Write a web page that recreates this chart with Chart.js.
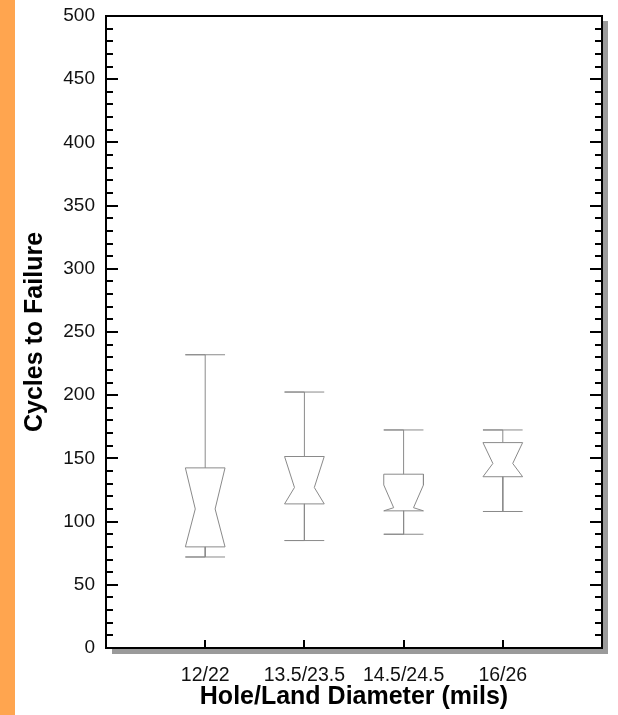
<!DOCTYPE html>
<html>
<head>
<meta charset="utf-8">
<script src="https://cdn.jsdelivr.net/npm/chart.js@4.4.1/dist/chart.umd.min.js"></script>
<style>
  html, body { margin: 0; padding: 0; background: #fff; }
  body { width: 618px; height: 715px; position: relative; overflow: hidden; }
  #strip { position: absolute; left: 0; top: 0; width: 15px; height: 715px; background: #ffa54f; }
  #chart { position: absolute; left: 15px; top: 0; }
</style>
</head>
<body>
<div id="strip"></div>
<canvas id="chart" width="603" height="715"></canvas>
<script>
// Categories and box statistics (cycles to failure)
const categories = ['12/22', '13.5/23.5', '14.5/24.5', '16/26'];
const whiskerLow = [72, 85, 90, 108];
const q1 = [80, 114, 108.5, 135.5];
const notchLow = [80, 114, 108.5, 135.5];
const median = [110, 127, 111, 146];
const notchHigh = [142.5, 151.5, 129, 162.5];
const q3 = [142.5, 151.5, 137.5, 162.5];
const whiskerHigh = [232, 202.5, 172.5, 172.5];
const yTicksMajor = [0, 50, 100, 150, 200, 250, 300, 350, 400, 450, 500];

const fontFamily = "'Liberation Sans', Arial, Helvetica, sans-serif";
const halfBox = 0.2;
const halfNotch = 0.1;

function boxPoints(i) {
    const x = i + 1;
    const gap = { x: x, y: null };
    return [
        // upper whisker + cap
        { x: x, y: q3[i] }, { x: x, y: whiskerHigh[i] },
        { x: x - halfBox, y: whiskerHigh[i] }, { x: x + halfBox, y: whiskerHigh[i] }, gap,
        // lower whisker + cap
        { x: x, y: q1[i] }, { x: x, y: whiskerLow[i] },
        { x: x - halfBox, y: whiskerLow[i] }, { x: x + halfBox, y: whiskerLow[i] }, gap,
        // notched box outline
        { x: x - halfBox, y: q3[i] }, { x: x + halfBox, y: q3[i] },
        { x: x + halfBox, y: notchHigh[i] }, { x: x + halfNotch, y: median[i] },
        { x: x + halfBox, y: notchLow[i] }, { x: x + halfBox, y: q1[i] },
        { x: x - halfBox, y: q1[i] }, { x: x - halfBox, y: notchLow[i] },
        { x: x - halfNotch, y: median[i] }, { x: x - halfBox, y: notchHigh[i] },
        { x: x - halfBox, y: q3[i] }
    ];
}

const datasets = categories.map((c, i) => ({
    label: c,
    data: boxPoints(i),
    showLine: true,
    spanGaps: false,
    borderColor: '#8a8a8a',
    borderWidth: 1,
    pointRadius: 0,
    pointHoverRadius: 0,
    fill: false,
    tension: 0,
    borderJoinStyle: 'miter'
}));

// frame with drop shadow and inward ticks
const framePlugin = {
    id: 'frame',
    beforeDatasetsDraw(chart) {
        const { ctx, chartArea: a, scales } = chart;
        const w = a.right - a.left, h = a.bottom - a.top;
        ctx.save();
        ctx.fillStyle = '#9a9a9a';
        ctx.fillRect(a.left + 6, a.top + 5, w, h + 1);
        ctx.fillStyle = '#ffffff';
        ctx.fillRect(a.left, a.top, w, h);

        ctx.strokeStyle = '#000';
        ctx.lineWidth = 2;
        ctx.beginPath();
        scales.y.ticks.forEach(t => {
            const py = Math.round(scales.y.getPixelForValue(t.value));
            const len = yTicksMajor.includes(t.value) ? 12 : 7;
            ctx.moveTo(a.left, py); ctx.lineTo(a.left + len, py);
            ctx.moveTo(a.right, py); ctx.lineTo(a.right - len, py);
        });
        scales.x.ticks.forEach(t => {
            const px = Math.round(scales.x.getPixelForValue(t.value));
            ctx.moveTo(px, a.bottom); ctx.lineTo(px, a.bottom - 8);
        });
        ctx.stroke();
        ctx.strokeRect(a.left, a.top, w, h);
        ctx.restore();
    }
};

new Chart(document.getElementById('chart'), {
    type: 'scatter',
    data: { datasets: datasets },
    plugins: [framePlugin],
    options: {
        responsive: false,
        animation: false,
        events: [],
        layout: { padding: { top: 16, right: 16, left: 0, bottom: 0 } },
        plugins: { legend: { display: false }, tooltip: { enabled: false } },
        scales: {
            x: {
                type: 'linear',
                min: 0,
                max: 5,
                grid: { display: false, drawTicks: false },
                border: { display: false },
                afterBuildTicks: scale => { scale.ticks = categories.map((c, i) => ({ value: i + 1 })); },
                afterFit: scale => { scale.height = 67; },
                ticks: {
                    padding: 16,
                    color: '#111',
                    maxRotation: 0,
                    autoSkip: false,
                    font: { family: fontFamily, size: 19.5 },
                    callback: (v, i) => categories[i]
                },
                title: {
                    display: true,
                    text: 'Hole/Land Diameter (mils)',
                    color: '#000',
                    padding: { top: 0, bottom: 3 },
                    font: { family: fontFamily, size: 25, weight: 'bold', lineHeight: 1.2 }
                }
            },
            y: {
                min: 0,
                max: 500,
                grid: { display: false, drawTicks: false },
                border: { display: false },
                afterFit: scale => {
                    scale.width = 91;
                    scale.paddingTop = 0;
                    scale.paddingBottom = 0;
                },
                ticks: {
                    stepSize: 10,
                    padding: 11,
                    color: '#111',
                    autoSkip: false,
                    font: { family: fontFamily, size: 19 },
                    callback: v => (yTicksMajor.includes(v) ? String(v) : '')
                },
                title: {
                    display: true,
                    text: 'Cycles to Failure',
                    color: '#000',
                    padding: { top: 5, bottom: 0 },
                    font: { family: fontFamily, size: 25, weight: 'bold', lineHeight: 1.2 }
                }
            }
        }
    }
});
</script>
</body>
</html>
